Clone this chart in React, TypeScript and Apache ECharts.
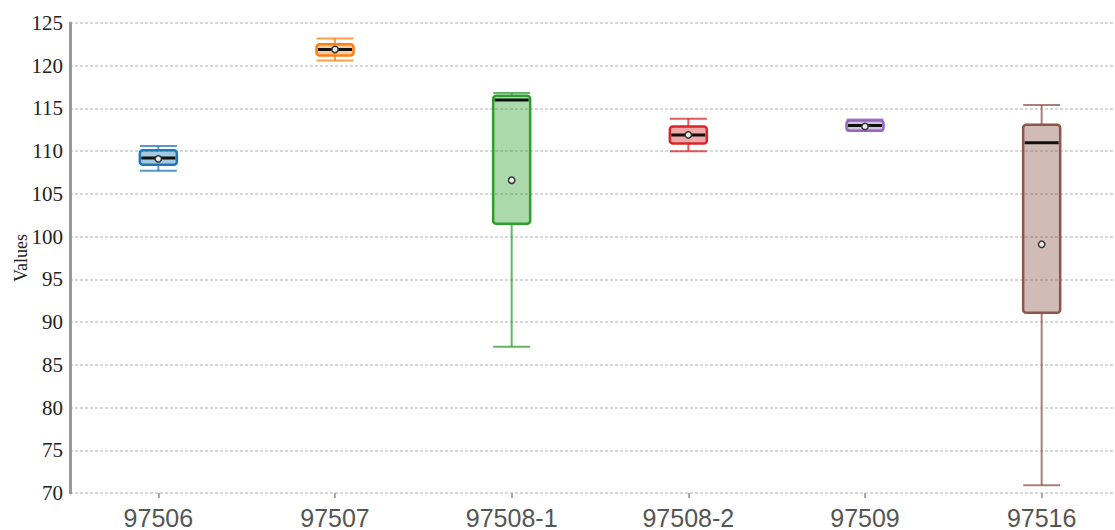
import { useEffect, useRef } from "react";
import * as echarts from "echarts";

const categories = ["97506", "97507", "97508-1", "97508-2", "97509", "97516"];
const mins = [107.7, 120.6, 87.1, 110.0, 112.4, 70.9];
const q1s = [108.4, 121.2, 101.5, 110.9, 112.4, 91.1];
const medians = [109.2, 121.9, 116.0, 111.9, 113.0, 111.0];
const q3s = [110.1, 122.5, 116.5, 112.9, 113.6, 113.1];
const maxs = [110.6, 123.2, 116.8, 113.8, 113.7, 115.4];
const means = [109.1, 121.9, 106.6, 111.9, 112.9, 99.1];
const colors = ["#1f77b4", "#ff7f0e", "#2ca02c", "#d62728", "#9467bd", "#8c564b"];
const yTicks = { min: 70, max: 125, interval: 5 };

export default function App() {
  const ref = useRef<HTMLDivElement>(null);
  useEffect(() => {
    const chart = echarts.init(ref.current!, null, { renderer: "svg" });
    const data = categories.map((_, i) => [i, mins[i], q1s[i], medians[i], q3s[i], maxs[i], means[i]]);
    chart.setOption({
      animation: false,
      grid: { left: 70, top: 23, bottom: 37, width: 1060, containLabel: false, outerBoundsMode: "none" },
      xAxis: {
        type: "category",
        data: categories,
        axisLine: { show: false },
        axisTick: { show: true, alignWithLabel: true, length: 5, lineStyle: { color: "#aaa", width: 2 } },
        axisLabel: { fontSize: 25, fontFamily: "Liberation Sans", color: "#555", margin: 12 },
        splitLine: { show: false },
      },
      yAxis: {
        type: "value",
        min: yTicks.min,
        max: yTicks.max,
        interval: yTicks.interval,
        name: "Values",
        nameLocation: "middle",
        nameGap: 40,
        nameMoveOverlap: false,
        nameTextStyle: { fontFamily: "Liberation Serif", fontSize: 18, color: "#222" },
        axisLine: { show: true, lineStyle: { color: "#999", width: 3 } },
        axisTick: { show: false },
        axisLabel: { fontFamily: "Liberation Serif", fontSize: 21, color: "#222", margin: 7 },
        splitLine: { show: true, lineStyle: { color: "#ccc", width: 1.5, type: [3, 2] } },
      },
      series: [
        {
          type: "custom",
          data,
          encode: { x: 0, y: [1, 2, 3, 4, 5, 6] },
          renderItem: (params: any, api: any) => {
            const i = api.value(0);
            const c = colors[i];
            const cx = api.coord([i, api.value(3)])[0];
            const yMin = api.coord([i, api.value(1)])[1];
            const yQ1 = api.coord([i, api.value(2)])[1];
            const yMed = api.coord([i, api.value(3)])[1];
            const yQ3 = api.coord([i, api.value(4)])[1];
            const yMax = api.coord([i, api.value(5)])[1];
            const yMean = api.coord([i, api.value(6)])[1];
            const hw = 18.5;
            const wStyle = { stroke: c, lineWidth: 2, opacity: 0.75 };
            return {
              type: "group",
              children: [
                { type: "line", shape: { x1: cx, y1: yMax, x2: cx, y2: yQ3 }, style: wStyle },
                { type: "line", shape: { x1: cx, y1: yQ1, x2: cx, y2: yMin }, style: wStyle },
                { type: "line", shape: { x1: cx - hw, y1: yMax, x2: cx + hw, y2: yMax }, style: wStyle },
                { type: "line", shape: { x1: cx - hw, y1: yMin, x2: cx + hw, y2: yMin }, style: wStyle },
                {
                  type: "rect",
                  shape: { x: cx - hw, y: yQ3, width: hw * 2, height: Math.max(yQ1 - yQ3, 1), r: 3 },
                  style: { fill: echarts.color.modifyAlpha(c, 0.4), stroke: c, lineWidth: 2.5 },
                },
                { type: "line", shape: { x1: cx - hw + 1.5, y1: yMed, x2: cx + hw - 1.5, y2: yMed }, style: { stroke: "#111", lineWidth: 3 } },
                { type: "circle", shape: { cx, cy: yMean, r: 3.2 }, style: { fill: "#eee", stroke: "#333", lineWidth: 1.5 } },
              ],
            };
          },
        },
      ],
    });
    return () => chart.dispose();
  }, []);
  return <div ref={ref} style={{ position: "absolute", left: 0, top: 0, width: 1115, height: 530 }} />;
}
